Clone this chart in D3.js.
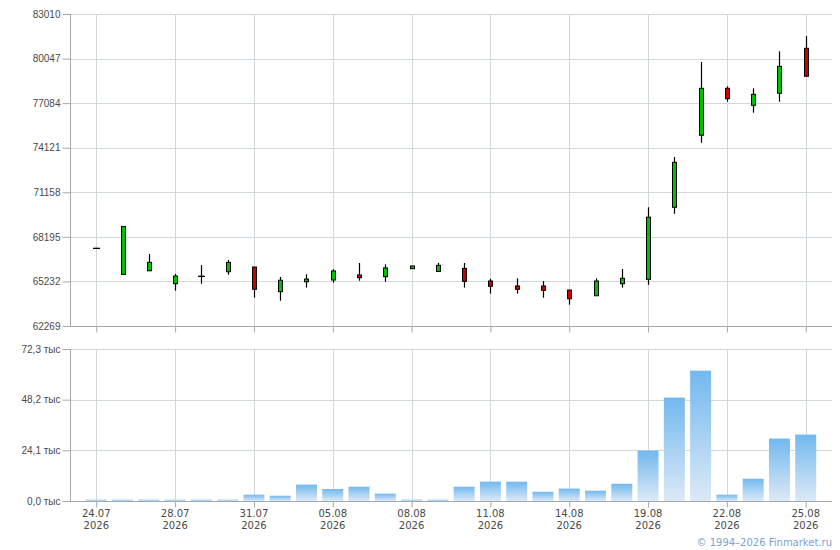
<!DOCTYPE html>
<html>
<head>
<meta charset="utf-8">
<script src="https://cdn.jsdelivr.net/npm/d3@7"></script>
<style>
  html, body { margin: 0; padding: 0; background: #fff; }
  svg { display: block; font-family: "DejaVu Sans", Verdana, sans-serif; }
  .tick-label { font-size: 10px; fill: #4a4a4a; }
</style>
</head>
<body>
<div id="chart"></div>
<script>
const svgWidth = 840;
const svgHeight = 550;

// dates of the trading sessions
const dates = [
  "24.07", "25.07", "27.07", "28.07", "29.07", "30.07", "31.07",
  "03.08", "04.08", "05.08", "06.08", "07.08", "08.08", "09.08",
  "10.08", "11.08", "12.08", "13.08", "14.08", "17.08", "18.08",
  "19.08", "20.08", "21.08", "22.08", "23.08", "24.08", "25.08",
];
const year = "2026";

const opens = [
  67430, 65700, 65940, 65080, 65570, 65880, 66190, 64550, 65210, 65330,
  65660, 65550, 66080, 65900, 66100, 65260, 64930, 64930, 64660, 64280,
  65080, 65370, 70160, 74950, 78070, 76940, 77740, 80730,
];
const highs = [
  67430, 68890, 67050, 65730, 66320, 66660, 66190, 65530, 65710, 66040,
  66460, 66370, 66260, 66460, 66460, 65410, 65440, 65260, 64660, 65440,
  66060, 70160, 73500, 79820, 78200, 78070, 80530, 81550,
];
const lows = [
  67430, 65700, 65940, 64620, 65080, 65680, 64150, 63950, 64820, 65150,
  65280, 65210, 66080, 65900, 64820, 64420, 64420, 64150, 63690, 64280,
  64820, 65010, 69730, 74450, 77180, 76450, 77180, 78870,
];
const closes = [
  67430, 68890, 66500, 65590, 65570, 66500, 64710, 65310, 65390, 65930,
  65480, 66130, 66260, 66300, 65240, 64910, 64710, 64640, 64080, 65260,
  65440, 69500, 73150, 78070, 77380, 77670, 79530, 78870,
];
// volume, thousands
const volumes = [
  0.6, 0.6, 0.6, 0.6, 0.6, 0.6, 3.0, 2.5, 7.8, 5.7,
  6.8, 3.5, 0.6, 0.6, 6.8, 9.2, 9.2, 4.4, 5.9, 4.9,
  8.2, 24.0, 49.2, 62.0, 3.0, 10.6, 29.7, 31.6,
];

const priceTicks = [62269, 65232, 68195, 71158, 74121, 77084, 80047, 83010];
const volumeTicks = [0, 24.1, 48.2, 72.3];

const candles = dates.map((d, i) => ({
  date: d,
  open: opens[i],
  high: highs[i],
  low: lows[i],
  close: closes[i],
  volume: volumes[i],
}));

const plotLeft = 70;
const plotRight = 832;
const price = { top: 14, bottom: 326 };
const vol = { top: 349, bottom: 501 };

const gridColor = "#d3d8dc";
const axisColor = "#a4a8ac";

const svg = d3.select("#chart")
  .append("svg")
  .attr("width", svgWidth)
  .attr("height", svgHeight);

const xScale = d3.scalePoint()
  .domain(dates)
  .range([plotLeft, plotRight])
  .padding(1);

const yPrice = d3.scaleLinear()
  .domain([priceTicks[0], priceTicks[priceTicks.length - 1]])
  .range([price.bottom, price.top]);

const yVol = d3.scaleLinear()
  .domain([0, volumeTicks[volumeTicks.length - 1]])
  .range([vol.bottom, vol.top]);

const labelDates = dates.filter((d, i) => i % 3 === 0);
const fmtVol = (v) => v.toFixed(1).replace(".", ",") + " тыс";

function drawPanel(top, bottom, yScale, ticks, fmt) {
  const g = svg.append("g");

  // horizontal grid
  g.selectAll("line.hgrid")
    .data(ticks)
    .join("line")
    .attr("class", "hgrid")
    .attr("x1", plotLeft)
    .attr("x2", plotRight)
    .attr("y1", (d) => Math.round(yScale(d)) + 0.5)
    .attr("y2", (d) => Math.round(yScale(d)) + 0.5)
    .attr("stroke", gridColor);

  // vertical grid
  g.selectAll("line.vgrid")
    .data(labelDates)
    .join("line")
    .attr("class", "vgrid")
    .attr("x1", (d) => Math.round(xScale(d)) + 0.5)
    .attr("x2", (d) => Math.round(xScale(d)) + 0.5)
    .attr("y1", top)
    .attr("y2", bottom)
    .attr("stroke", gridColor);

  const yAxis = d3.axisLeft(yScale)
    .tickValues(ticks)
    .tickFormat(fmt)
    .tickSize(8)
    .tickPadding(2);

  const yg = g.append("g")
    .attr("transform", `translate(${plotLeft + 0.5},0)`)
    .call(yAxis);
  yg.select(".domain").attr("stroke", axisColor).attr("d", `M0,${top}V${bottom}`);
  yg.selectAll(".tick line").attr("stroke", axisColor);
  yg.selectAll(".tick text").attr("class", "tick-label").attr("font-family", null).attr("font-size", null);

  const xAxis = d3.axisBottom(xScale)
    .tickValues(labelDates)
    .tickFormat("")
    .tickSize(6);

  const xg = g.append("g")
    .attr("transform", `translate(0,${bottom + 0.5})`)
    .call(xAxis);
  xg.select(".domain").attr("stroke", axisColor).attr("d", `M${plotLeft},0H${plotRight}`);
  xg.selectAll(".tick line").attr("stroke", axisColor);
  return g;
}

drawPanel(price.top, price.bottom, yPrice, priceTicks, (d) => d);
drawPanel(vol.top, vol.bottom, yVol, volumeTicks, fmtVol);

// candles
const candleG = svg.append("g");
const bodyW = 4;

candleG.selectAll("line.wick")
  .data(candles)
  .join("line")
  .attr("class", "wick")
  .attr("x1", (d) => Math.round(xScale(d.date)) + 0.5)
  .attr("x2", (d) => Math.round(xScale(d.date)) + 0.5)
  .attr("y1", (d) => yPrice(d.high))
  .attr("y2", (d) => yPrice(d.low))
  .attr("stroke", "#000")
  .attr("stroke-width", 1.2);

candleG.selectAll("rect.body")
  .data(candles)
  .join("rect")
  .attr("class", "body")
  .attr("x", (d) => Math.round(xScale(d.date)) - bodyW / 2 + 0.5)
  .attr("y", (d) => yPrice(Math.max(d.open, d.close)))
  .attr("width", bodyW)
  .attr("height", (d) => Math.max(0.01, Math.abs(yPrice(d.open) - yPrice(d.close))))
  .attr("fill", (d) => (d.close >= d.open ? "#00c000" : "#cc0000"))
  .attr("stroke", "#000")
  .attr("stroke-width", 1);

// flat candles drawn as a short dash
candleG.selectAll("line.flat")
  .data(candles.filter((d) => d.open === d.close))
  .join("line")
  .attr("class", "flat")
  .attr("x1", (d) => Math.round(xScale(d.date)) - 3)
  .attr("x2", (d) => Math.round(xScale(d.date)) + 4)
  .attr("y1", (d) => yPrice(d.close))
  .attr("y2", (d) => yPrice(d.close))
  .attr("stroke", "#000")
  .attr("stroke-width", 1.2);

// volume bars, each with its own top-to-bottom gradient
const defs = svg.append("defs");
const grad = defs.append("linearGradient")
  .attr("id", "volGrad")
  .attr("x1", 0).attr("x2", 0)
  .attr("y1", 0).attr("y2", 1);
grad.append("stop").attr("offset", "0%").attr("stop-color", "#72b8ef");
grad.append("stop").attr("offset", "100%").attr("stop-color", "#dce9f6");

const barW = 21;
svg.append("g")
  .selectAll("rect.vol")
  .data(candles)
  .join("rect")
  .attr("class", "vol")
  .attr("x", (d) => xScale(d.date) - barW / 2)
  .attr("y", (d) => yVol(d.volume))
  .attr("width", barW)
  .attr("height", (d) => vol.bottom - yVol(d.volume))
  .attr("fill", "url(#volGrad)");

// redraw the volume base line over the bars
svg.append("line")
  .attr("x1", plotLeft)
  .attr("x2", plotRight)
  .attr("y1", vol.bottom + 0.5)
  .attr("y2", vol.bottom + 0.5)
  .attr("stroke", axisColor);

// date labels
const dateLabels = svg.append("g")
  .selectAll("text")
  .data(labelDates)
  .join("text")
  .attr("class", "tick-label")
  .attr("text-anchor", "middle")
  .attr("x", (d) => xScale(d));
dateLabels.append("tspan").attr("x", (d) => xScale(d)).attr("y", 517).text((d) => d);
dateLabels.append("tspan").attr("x", (d) => xScale(d)).attr("y", 529).text(year);

svg.append("text")
  .attr("x", plotRight)
  .attr("y", 546)
  .attr("text-anchor", "end")
  .attr("font-size", "10px")
  .attr("fill", "#7b9fd6")
  .text("© 1994–2026 Finmarket.ru");
</script>
</body>
</html>
